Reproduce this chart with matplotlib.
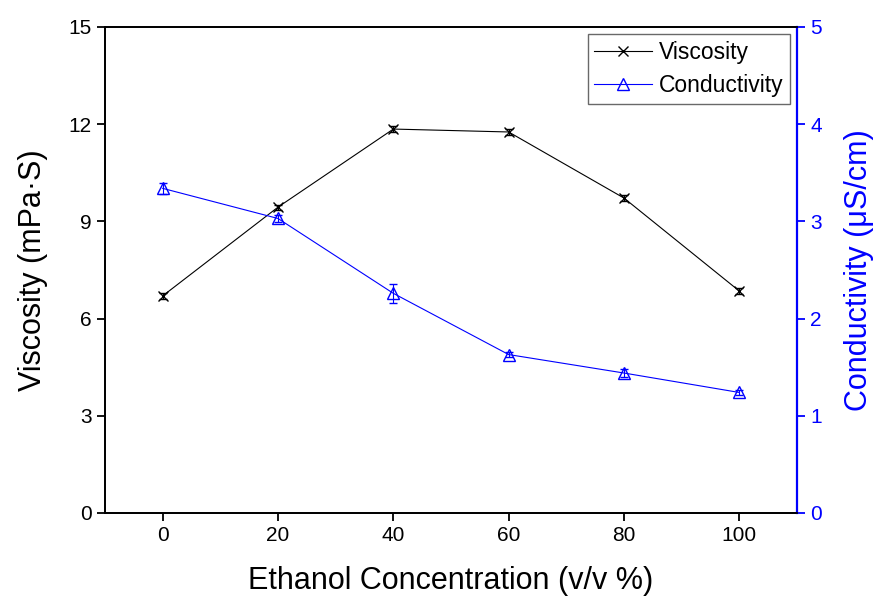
import matplotlib
matplotlib.use("Agg")
import matplotlib.pyplot as plt
from matplotlib.lines import Line2D

plt.rcParams['font.family'] = ['Liberation Sans', 'DejaVu Sans']

conc = [0, 20, 40, 60, 80, 100]
viscosity = [6.70, 9.44, 11.85, 11.76, 9.72, 6.85]
visc_err = [0.08, 0.08, 0.08, 0.08, 0.08, 0.08]
conductivity = [3.34, 3.03, 2.26, 1.63, 1.44, 1.24]
cond_err = [0.06, 0.04, 0.10, 0.03, 0.04, 0.03]

fig = plt.figure(figsize=(8.78, 6.03), dpi=100)
ax = fig.add_axes([105/878, 1-513/603, (797-105)/878, (513-27)/603])
ax2 = ax.twinx()

ax.errorbar(conc, viscosity, yerr=visc_err, color='black', marker='x', markersize=7,
            lw=0.8, capsize=3, elinewidth=0.8)
ax2.errorbar(conc, conductivity, yerr=cond_err, color='blue', marker='^', markersize=8,
             mfc='none', lw=0.8, capsize=3, elinewidth=0.8)

ax.set_xlim(-10, 110)
ax.set_ylim(0, 15)
ax2.set_ylim(0, 5)
ax.set_xticks([0, 20, 40, 60, 80, 100])
ax.set_yticks([0, 3, 6, 9, 12, 15])
ax2.set_yticks([0, 1, 2, 3, 4, 5])

for s in ax.spines.values():
    s.set_linewidth(1.3)
for s in ax2.spines.values():
    s.set_linewidth(1.3)
ax.tick_params(direction='out', labelsize=15, length=6, width=1.3)
ax2.tick_params(direction='out', labelsize=15, length=6, width=1.3, colors='blue')
ax2.spines['right'].set_color('blue')
ax2.spines['right'].set_linewidth(1.6)

ax.set_xlabel('Ethanol Concentration (v/v %)', fontsize=22, labelpad=15)
ax.set_ylabel('Viscosity (mPa·S)', fontsize=22, labelpad=15)
ax2.set_ylabel('Conductivity (μS/cm)', fontsize=22, color='blue', labelpad=16)

handles = [Line2D([], [], color='black', marker='x', lw=0.8, markersize=7),
           Line2D([], [], color='blue', marker='^', mfc='none', lw=0.8, markersize=8)]
leg = ax.legend(handles, ['Viscosity', 'Conductivity'], loc='upper right', fontsize=16.5,
                frameon=True, fancybox=False, edgecolor='#444444', handlelength=2.5,
                handletextpad=0.3, borderaxespad=0.3, borderpad=0.3, labelspacing=0.45)
leg.get_frame().set_linewidth(1.0)

fig.savefig('out.png', dpi=100)
